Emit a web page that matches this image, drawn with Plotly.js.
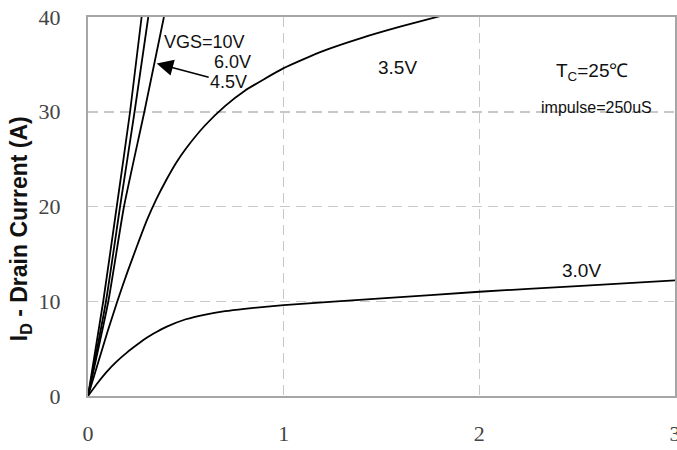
<!DOCTYPE html>
<html>
<head>
<meta charset="utf-8">
<script src="https://cdn.plot.ly/plotly-3.0.1.min.js"></script>
<style>html,body{margin:0;padding:0;background:#fff;}#chart{width:677px;height:450px;}</style>
</head>
<body>
<div id="chart"></div>
<script>
// V_DS (V) and I_D (A)
const vds10 = [0, 0.078, 0.147, 0.215, 0.274];
const id10  = [0, 10, 20, 30, 40];
const vds6  = [0, 0.092, 0.164, 0.238, 0.308];
const id6   = [0, 10, 20, 30, 40];
const vds45 = [0, 0.104, 0.184, 0.288, 0.388];
const id45  = [0, 10, 20, 30, 40];
const vds35 = [0, 0.05, 0.1, 0.15, 0.2, 0.25, 0.3, 0.35, 0.4, 0.45, 0.5, 0.6, 0.7, 0.8, 1.0, 1.2, 1.4, 1.6, 1.8];
const id35  = [0, 3.4, 6.8, 10.0, 13.0, 15.8, 18.5, 20.8, 22.8, 24.6, 26.1, 28.6, 30.6, 32.2, 34.6, 36.4, 37.8, 39.0, 40.1];
const vds30 = [0, 0.05, 0.1, 0.15, 0.2, 0.25, 0.3, 0.35, 0.4, 0.5, 0.6, 0.7, 0.8, 1.0, 1.5, 2.0, 2.5, 3.0];
const id30  = [0, 1.4, 2.65, 3.7, 4.6, 5.4, 6.15, 6.75, 7.3, 8.1, 8.6, 8.95, 9.2, 9.6, 10.3, 11.0, 11.6, 12.2];
const xTicks = [0, 1, 2, 3];
const yTicks = [0, 10, 20, 30, 40];

const line = {color: '#000', width: 1.8, shape: 'spline', smoothing: 0.5};
const mk = (x, y, name) => ({x, y, name, type: 'scatter', mode: 'lines', line, hoverinfo: 'skip'});
const data = [
  mk(vds10, id10, 'VGS=10V'),
  mk(vds6, id6, '6.0V'),
  mk(vds45, id45, '4.5V'),
  mk(vds35, id35, '3.5V'),
  mk(vds30, id30, '3.0V')
];

const sans = 'Liberation Sans, Arial, sans-serif';
const tickFont = {family: 'Liberation Serif, Times New Roman, serif', size: 22, color: '#444'};
const axisCommon = {
  showline: true, mirror: true, linecolor: '#a6a6a6', linewidth: 2,
  showgrid: true, gridcolor: '#c8c8c8', gridwidth: 1.5, griddash: '10px,6px',
  zeroline: false, ticks: '', tickfont: tickFont, tickmode: 'array', ticklabeloverflow: 'allow'
};

const layout = {
  width: 677, height: 450,
  margin: {l: 88, r: 2, t: 17, b: 54},
  paper_bgcolor: '#fff', plot_bgcolor: '#fff',
  showlegend: false,
  xaxis: Object.assign({}, axisCommon, {range: [0, 3], tickvals: xTicks, ticktext: xTicks.map(String), ticklabelstandoff: 17}),
  yaxis: Object.assign({}, axisCommon, {range: [0, 40], tickvals: yTicks, ticktext: yTicks.map(String), ticklabelstandoff: 21}),
  annotations: [
    {xref: 'paper', yref: 'paper', x: 0, y: 0.44, xshift: -68, xanchor: 'center', yanchor: 'middle',
     textangle: -90, showarrow: false, text: '<b>I<sub>D</sub> - Drain Current (A)</b>',
     font: {family: sans, size: 23, color: '#111'}},
    {xref: 'x', yref: 'y', x: 0.376, y: 37.4, xanchor: 'left', yanchor: 'middle', showarrow: false,
     text: 'VGS=10V', font: {family: sans, size: 18, color: '#111'}},
    {xref: 'x', yref: 'y', x: 0.843, y: 35.2, xanchor: 'right', yanchor: 'middle', showarrow: false,
     text: '6.0V', font: {family: sans, size: 18, color: '#111'}},
    {xref: 'x', yref: 'y', x: 0.351, y: 35.1, ax: 72, ay: 19, showarrow: true,
     arrowhead: 2, arrowsize: 2.2, arrowwidth: 1.5, arrowcolor: '#000', standoff: 0,
     text: '4.5V', font: {family: sans, size: 18, color: '#111'}},
    {xref: 'x', yref: 'y', x: 1.584, y: 34.7, showarrow: false,
     text: '3.5V', font: {family: sans, size: 19, color: '#111'}},
    {xref: 'x', yref: 'y', x: 2.52, y: 13.2, showarrow: false,
     text: '3.0V', font: {family: sans, size: 19, color: '#111'}},
    {xref: 'x', yref: 'y', x: 2.575, y: 34.2, showarrow: false,
     text: 'T<sub>C</sub>=25℃', font: {family: sans, size: 19, color: '#111'}},
    {xref: 'x', yref: 'y', x: 2.6, y: 30.4, showarrow: false,
     text: 'impulse=250uS', font: {family: sans, size: 16, color: '#111'}}
  ]
};

Plotly.newPlot('chart', data, layout, {displayModeBar: false, staticPlot: true});
</script>
</body>
</html>
